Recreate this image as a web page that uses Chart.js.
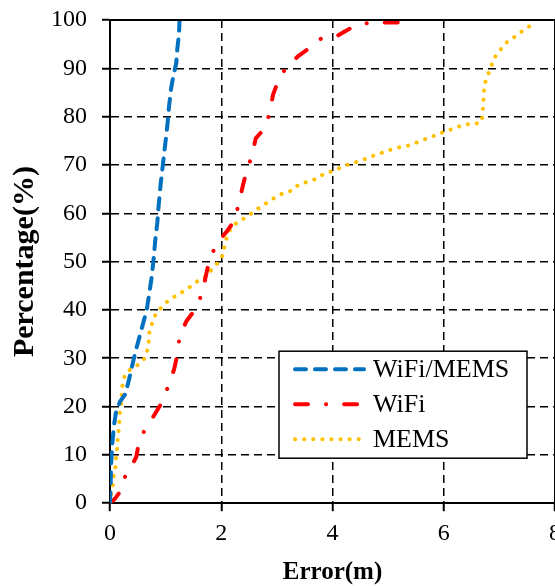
<!DOCTYPE html>
<html>
<head>
<meta charset="utf-8">
<script src="https://cdn.jsdelivr.net/npm/chart.js@4.4.0/dist/chart.umd.min.js"></script>
<style>
html, body { margin: 0; padding: 0; overflow: hidden; background: #fff; width: 555px; height: 586px; }
#wrap { width: 569px; height: 586px; }
canvas { display: block; }
</style>
</head>
<body>
<div id="wrap"><canvas id="c" width="569" height="586"></canvas></div>
<script>
// ---- Data ----
const seriesLabels = ['WiFi/MEMS', 'WiFi', 'MEMS'];

const fusionErr = [0, 0.01, 0.02, 0.04, 0.07, 0.11, 0.18, 0.27, 0.33, 0.39, 0.45, 0.52, 0.59, 0.66, 0.70, 0.74, 0.78, 0.81, 0.85, 0.87, 0.91, 0.95, 0.99, 1.03, 1.06, 1.10, 1.15, 1.19, 1.21, 1.24, 1.25];
const fusionPct = [0, 3, 8, 12, 16, 19, 21, 22.5, 25, 28, 31, 34, 37, 40, 43, 46, 50, 54, 58, 61, 66, 70, 74, 78, 82, 86, 89, 91, 94, 97, 100];

const wifiErr = [0, 0.08, 0.17, 0.28, 0.40, 0.47, 0.52, 0.63, 0.80, 0.92, 1.04, 1.15, 1.21, 1.25, 1.37, 1.55, 1.66, 1.73, 1.79, 1.92, 2.11, 2.24, 2.32, 2.39, 2.45, 2.55, 2.62, 2.78, 2.87, 2.93, 3.03, 3.18, 3.39, 3.56, 3.80, 4.10, 4.31, 4.60, 4.91, 5.18];
const wifiPct = [0, 0.8, 2.2, 5.8, 8.0, 9.5, 12.5, 15.3, 18.3, 20.6, 24, 27.6, 30.7, 34.4, 37.6, 40.4, 43.6, 47.4, 50.5, 53.7, 56.4, 58.5, 62.3, 65.8, 68.5, 71.9, 75.5, 77.6, 80.7, 84.5, 87.6, 90.4, 92.6, 94, 96.2, 96.8, 98.2, 99.3, 99.5, 99.5];

const memsErr = [0, 0.02, 0.05, 0.07, 0.10, 0.11, 0.13, 0.14, 0.16, 0.17, 0.18, 0.21, 0.21, 0.23, 0.28, 0.40, 0.53, 0.63, 0.68, 0.70, 0.71, 0.77, 0.83, 0.95, 1.07, 1.20, 1.34, 1.48, 1.61, 1.74, 1.83, 1.95, 2.03, 2.06, 2.10, 2.17, 2.28, 2.42, 2.56, 2.70, 2.84, 2.98, 3.12, 3.27, 3.40, 3.55, 3.70, 3.84, 3.99, 4.14, 4.28, 4.43, 4.58, 4.73, 4.88, 5.03, 5.18, 5.33, 5.48, 5.63, 5.78, 5.92, 6.07, 6.22, 6.37, 6.53, 6.68, 6.70, 6.71, 6.72, 6.73, 6.79, 6.85, 6.91, 7.01, 7.11, 7.25, 7.39, 7.52, 7.67];
const memsPct = [0, 1.9, 3.75, 5.8, 7.6, 9.7, 11.5, 13.5, 15.4, 17.3, 19.2, 21.2, 23.2, 25, 26.9, 28, 28.8, 30.1, 32, 33.8, 35.8, 37.6, 39.4, 40.8, 42.2, 43, 44, 45.1, 46.3, 47, 48.4, 49.9, 51.4, 53.3, 55.1, 56.9, 58.1, 59, 60.1, 61.3, 62.3, 63.4, 64.2, 64.7, 66, 66.5, 67.1, 68.1, 68.7, 69.4, 70.1, 70.6, 71.2, 71.9, 72.5, 73.1, 73.6, 73.9, 74.5, 75.2, 75.8, 76.5, 77.1, 77.7, 78.4, 78.4, 78.9, 80.9, 82.8, 84.7, 86.6, 88.5, 90.3, 92.2, 93.7, 95.2, 96.3, 97.5, 98.6, 99.2];

const xTickValues = [0, 2, 4, 6, 8];
const yTickValues = [0, 10, 20, 30, 40, 50, 60, 70, 80, 90, 100];

const xTitle = 'Error(m)';
const yTitle = 'Percentage(%)';

// ---- Helpers ----
const pts = (xs, ys) => xs.map((x, i) => ({ x: x, y: ys[i] }));
const FONT = '"Liberation Serif", "Times New Roman", serif';

const framePlugin = {
  id: 'frame',
  afterDraw(chart) {
    const { ctx, chartArea: a } = chart;
    ctx.save();
    ctx.strokeStyle = '#000';
    ctx.lineWidth = 2;
    ctx.setLineDash([]);
    ctx.beginPath();
    ctx.moveTo(a.left, a.top);
    ctx.lineTo(a.right, a.top);
    ctx.lineTo(a.right, a.bottom);
    ctx.stroke();
    ctx.restore();
  }
};

const legendPlugin = {
  id: 'insideLegend',
  afterDatasetsDraw(chart) {
    const { ctx, chartArea: a } = chart;
    const boxW = 248, boxH = 107;
    const x0 = a.right - 28 - boxW;
    const y0 = a.bottom - 45 - boxH;
    ctx.save();
    ctx.fillStyle = '#fff';
    ctx.fillRect(x0, y0, boxW, boxH);
    ctx.strokeStyle = '#000';
    ctx.lineWidth = 1.5;
    ctx.setLineDash([]);
    ctx.strokeRect(x0, y0, boxW, boxH);
    chart.data.datasets.forEach((ds, i) => {
      const y = y0 + 18 + i * 35;
      ctx.beginPath();
      ctx.setLineDash(ds.borderDash);
      ctx.lineCap = 'round';
      ctx.lineWidth = ds.borderWidth;
      ctx.strokeStyle = ds.borderColor;
      ctx.moveTo(x0 + 16, y);
      ctx.lineTo(x0 + 85, y);
      ctx.stroke();
      ctx.setLineDash([]);
      ctx.fillStyle = '#000';
      ctx.font = '26px ' + FONT;
      ctx.textBaseline = 'middle';
      ctx.textAlign = 'left';
      ctx.fillText(ds.label, x0 + 94, y + 1);
    });
    ctx.restore();
  }
};

const lineStyle = {
  fill: false,
  pointRadius: 0,
  pointHoverRadius: 0,
  tension: 0,
  borderWidth: 4,
  borderCapStyle: 'round',
  borderJoinStyle: 'round'
};

new Chart(document.getElementById('c'), {
  type: 'line',
  data: {
    datasets: [
      Object.assign({ label: seriesLabels[0], data: pts(fusionErr, fusionPct), borderColor: '#0070C0', backgroundColor: '#0070C0', borderDash: [11, 9] }, lineStyle),
      Object.assign({ label: seriesLabels[1], data: pts(wifiErr, wifiPct), borderColor: '#FF0000', backgroundColor: '#FF0000', borderDash: [13, 18, 0.1, 18] }, lineStyle),
      Object.assign({ label: seriesLabels[2], data: pts(memsErr, memsPct), borderColor: '#FFC000', backgroundColor: '#FFC000', borderDash: [0.1, 9] }, lineStyle)
    ]
  },
  options: {
    responsive: false,
    animation: false,
    events: [],
    layout: { padding: { top: 20, right: 0, bottom: 0, left: 0 } },
    plugins: { legend: { display: false }, tooltip: { enabled: false } },
    scales: {
      x: {
        type: 'linear',
        min: 0,
        max: 8,
        afterBuildTicks: (s) => { s.ticks = xTickValues.map(v => ({ value: v })); },
        ticks: { color: '#000', font: { family: FONT, size: 24 }, padding: 8, maxRotation: 0 },
        grid: { color: '#000', lineWidth: 1.5, tickLength: 8, tickColor: '#000', tickWidth: 2 },
        border: { display: true, color: '#000', width: 2, dash: [8, 5] },
        title: { display: true, text: xTitle, color: '#000', font: { family: FONT, size: 25, weight: 'bold' }, padding: { top: 2, bottom: -2 } }
      },
      y: {
        type: 'linear',
        min: 0,
        max: 100,
        afterBuildTicks: (s) => { s.ticks = yTickValues.map(v => ({ value: v })); },
        afterFit: (s) => { s.paddingTop = 0; },
        ticks: { color: '#000', font: { family: FONT, size: 24 }, padding: 15 },
        grid: { color: '#000', lineWidth: 1.5, tickLength: 8, tickColor: '#000', tickWidth: 2 },
        border: { display: true, color: '#000', width: 2, dash: [8, 5] },
        title: { display: true, text: yTitle, color: '#000', font: { family: FONT, size: 30, weight: 'bold' }, padding: { top: 7, bottom: -7 } }
      }
    }
  },
  plugins: [legendPlugin, framePlugin]
});
</script>
</body>
</html>
